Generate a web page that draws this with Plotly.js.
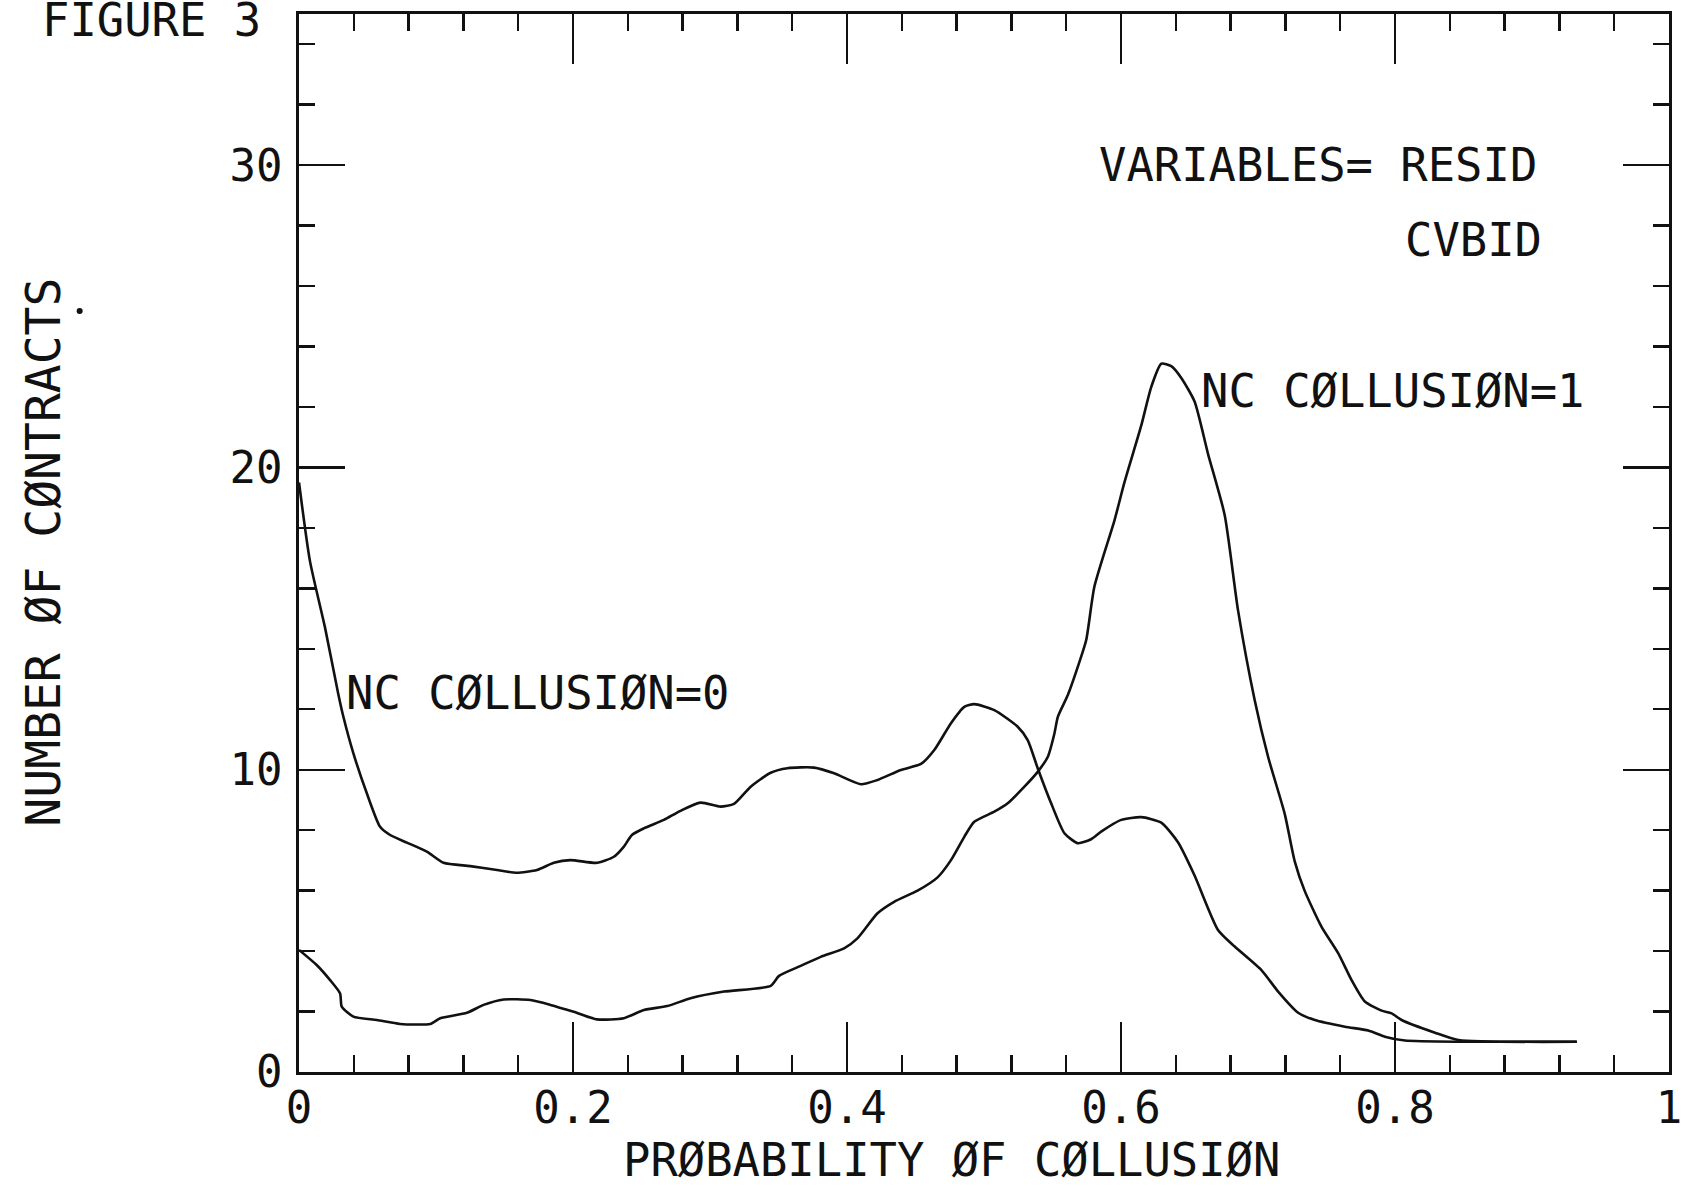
<!DOCTYPE html>
<html>
<head>
<meta charset="utf-8">
<script src="https://cdn.plot.ly/plotly-3.0.1.min.js"></script>
<style>
  html, body { margin: 0; padding: 0; background: #ffffff; }
  #chart { width: 1681px; height: 1196px; }
</style>
</head>
<body>
<div id="chart"></div>
<script>
// ---- data ----
const collusion0X = [0, 0.008, 0.019, 0.0287, 0.0324, 0.0397, 0.0495, 0.0592, 0.0665, 0.0787, 0.0933, 0.1055, 0.125, 0.1445, 0.159, 0.1737, 0.186, 0.198, 0.2176, 0.2298, 0.237, 0.243, 0.2517, 0.2663, 0.2785, 0.2931, 0.3077, 0.3175, 0.3297, 0.3443, 0.3565, 0.376, 0.3906, 0.41, 0.4223, 0.4393, 0.454, 0.4637, 0.4759, 0.4856, 0.4929, 0.5075, 0.5246, 0.5319, 0.5392, 0.549, 0.5587, 0.5685, 0.5782, 0.5855, 0.6001, 0.6148, 0.6294, 0.6416, 0.6537, 0.6708, 0.683, 0.7025, 0.7147, 0.7293, 0.7415, 0.7634, 0.7805, 0.7926, 0.8073, 0.85, 0.9327];
const collusion0Y = [19.5, 16.9, 14.7, 12.5, 11.75, 10.54, 9.22, 8.11, 7.84, 7.59, 7.29, 6.92, 6.81, 6.68, 6.59, 6.68, 6.92, 7.01, 6.92, 7.12, 7.45, 7.84, 8.06, 8.34, 8.64, 8.91, 8.78, 8.87, 9.44, 9.9, 10.05, 10.07, 9.88, 9.52, 9.66, 9.99, 10.19, 10.65, 11.54, 12.08, 12.17, 11.97, 11.42, 10.98, 10.05, 8.89, 7.9, 7.57, 7.7, 7.95, 8.34, 8.43, 8.25, 7.6, 6.5, 4.7, 4.15, 3.37, 2.66, 1.96, 1.72, 1.5, 1.37, 1.17, 1.04, 1.0, 1.0];

const collusion1X = [0, 0.0129, 0.0227, 0.03, 0.0312, 0.0397, 0.0568, 0.0738, 0.0958, 0.1031, 0.1226, 0.1347, 0.1494, 0.1689, 0.1835, 0.2005, 0.2176, 0.2371, 0.2517, 0.2688, 0.2858, 0.3102, 0.3443, 0.3504, 0.3662, 0.3808, 0.3979, 0.4076, 0.4223, 0.4344, 0.4515, 0.4661, 0.4759, 0.4856, 0.4929, 0.5075, 0.5173, 0.5295, 0.5392, 0.5466, 0.5514, 0.5539, 0.5612, 0.5685, 0.5746, 0.5806, 0.5953, 0.6026, 0.6148, 0.622, 0.6294, 0.6367, 0.644, 0.6537, 0.6635, 0.6757, 0.6854, 0.6976, 0.7074, 0.7195, 0.7268, 0.734, 0.7463, 0.7585, 0.7683, 0.778, 0.7902, 0.7975, 0.8048, 0.8292, 0.8463, 0.9327];
const collusion1Y = [4.04, 3.54, 3.04, 2.6, 2.16, 1.83, 1.72, 1.59, 1.59, 1.78, 1.96, 2.22, 2.4, 2.38, 2.22, 1.99, 1.74, 1.78, 2.05, 2.18, 2.44, 2.66, 2.85, 3.18, 3.51, 3.81, 4.09, 4.42, 5.25, 5.63, 6.0, 6.44, 7.01, 7.78, 8.28, 8.61, 8.89, 9.44, 9.93, 10.43, 11.2, 11.75, 12.47, 13.41, 14.29, 16.06, 18.26, 19.52, 21.39, 22.65, 23.43, 23.35, 22.96, 22.18, 20.45, 18.42, 15.28, 12.3, 10.42, 8.54, 6.97, 6.0, 4.81, 3.93, 3.04, 2.33, 2.03, 1.94, 1.72, 1.3, 1.06, 1.0];

const xTickVals = [0, 0.2, 0.4, 0.6, 0.8, 1];
const xTickText = ["0", "0.2", "0.4", "0.6", "0.8", "1"];
const yTickVals = [0, 10, 20, 30];
const yTickText = ["0", "10", "20", "30"];

const seriesNames = ["NC CØLLUSIØN=0", "NC CØLLUSIØN=1"];
const figureLabel = "FIGURE 3";
const xTitle = "PRØBABILITY ØF CØLLUSIØN";
const yTitle = "NUMBER ØF CØNTRACTS";
const variablesLine1 = "VARIABLES= RESID";
const variablesLine2 = "CVBID";

// ---- drawing ----
const FONT = "DejaVu Sans Mono, Liberation Mono, monospace";
const INK = "#111111";
const TXT = 45.5;

const traces = [
  { x: collusion0X, y: collusion0Y, name: seriesNames[0], type: "scatter", mode: "lines",
    line: { color: INK, width: 2.6, shape: "spline", smoothing: 0.6 }, showlegend: false, hoverinfo: "x+y+name" },
  { x: collusion1X, y: collusion1Y, name: seriesNames[1], type: "scatter", mode: "lines",
    line: { color: INK, width: 2.6, shape: "spline", smoothing: 0.6 }, showlegend: false, hoverinfo: "x+y+name" }
];

const axisCommon = {
  showgrid: false, zeroline: false,
  showline: true, linecolor: INK, linewidth: 2.6,
  mirror: "allticks",
  ticks: "inside", tickcolor: INK, tickwidth: 2.4,
  tickmode: "array",
  ticklabeloverflow: "allow",
  tickfont: { family: FONT, size: 44, color: INK }
};

const layout = {
  width: 1681, height: 1196,
  margin: { l: 299, r: 12, t: 14, b: 124, pad: 0 },
  paper_bgcolor: "#ffffff", plot_bgcolor: "#ffffff",
  showlegend: false,
  xaxis: Object.assign({}, axisCommon, {
    range: [0, 1], tickvals: xTickVals, ticktext: xTickText, ticklen: 50,
    ticklabelstandoff: -4,
    minor: { dtick: 0.04, tick0: 0, ticks: "inside", ticklen: 17, tickwidth: 2.4, tickcolor: INK, showgrid: false }
  }),
  yaxis: Object.assign({}, axisCommon, {
    range: [0, 35], tickvals: yTickVals, ticktext: yTickText, ticklen: 46,
    ticklabelstandoff: 5,
    minor: { dtick: 2, tick0: 0, ticks: "inside", ticklen: 16, tickwidth: 2.4, tickcolor: INK, showgrid: false }
  }),
  annotations: [
    { text: figureLabel, xref: "paper", yref: "paper", x: -0.1893, y: 0.9935, xanchor: "left", yanchor: "middle",
      showarrow: false, font: { family: FONT, size: TXT, color: INK } },
    { text: variablesLine1, xref: "x", yref: "y", x: 0.5825, y: 30.0, xanchor: "left", yanchor: "middle",
      showarrow: false, font: { family: FONT, size: TXT, color: INK } },
    { text: variablesLine2, xref: "x", yref: "y", x: 0.806, y: 27.5, xanchor: "left", yanchor: "middle",
      showarrow: false, font: { family: FONT, size: TXT, color: INK } },
    { text: seriesNames[1], xref: "x", yref: "y", x: 0.657, y: 22.5, xanchor: "left", yanchor: "middle",
      showarrow: false, font: { family: FONT, size: TXT, color: INK } },
    { text: seriesNames[0], xref: "x", yref: "y", x: 0.0325, y: 12.53, xanchor: "left", yanchor: "middle",
      showarrow: false, font: { family: FONT, size: TXT, color: INK } },
    { text: xTitle, xref: "paper", yref: "paper", x: 0.4766, y: -0.0841, xanchor: "center", yanchor: "middle",
      showarrow: false, font: { family: FONT, size: TXT, color: INK } },
    { text: yTitle, xref: "paper", yref: "paper", x: -0.1871, y: 0.4915, xanchor: "center", yanchor: "middle",
      textangle: -90, showarrow: false, font: { family: FONT, size: 48, color: INK } }
  ],
  shapes: [
    { type: "circle", xref: "paper", yref: "paper",
      x0: -0.1623, x1: -0.1579, y0: 0.7165, y1: 0.7221, fillcolor: INK, line: { width: 0 } }
  ]
};

Plotly.newPlot("chart", traces, layout, { staticPlot: true, displayModeBar: false });
</script>
</body>
</html>
